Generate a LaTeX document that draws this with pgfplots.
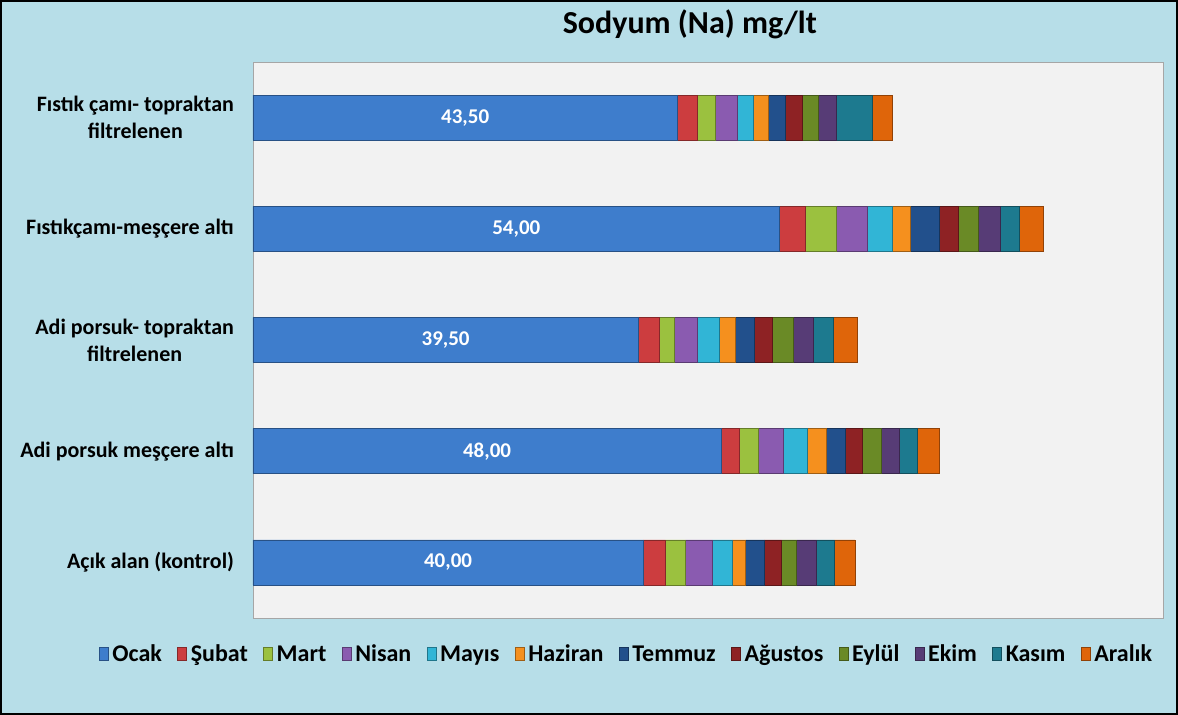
\documentclass[border=0pt]{standalone}
\usepackage{pgfplots}
\pgfplotsset{compat=1.18}
\usepackage{pgfplotstable}
\usepackage{fontspec}
\setmainfont{Carlito}

\definecolor{bgblue}{HTML}{B7DEE8}
\definecolor{plotbg}{HTML}{F2F2F2}
\definecolor{cOcak}{HTML}{3E7DCC}
\definecolor{cSubat}{HTML}{CC3D3F}
\definecolor{cMart}{HTML}{9BC13F}
\definecolor{cNisan}{HTML}{8A5BB0}
\definecolor{cMayis}{HTML}{31B5D6}
\definecolor{cHaziran}{HTML}{F5901E}
\definecolor{cTemmuz}{HTML}{22508C}
\definecolor{cAgustos}{HTML}{8E2224}
\definecolor{cEylul}{HTML}{6A8A26}
\definecolor{cEkim}{HTML}{573C76}
\definecolor{cKasim}{HTML}{1D7A8F}
\definecolor{cAralik}{HTML}{DF650A}

% y: 0 = Acik alan ... 4 = Fistik cami topraktan
\pgfplotstableread{
y Ocak Subat Mart Nisan Mayis Haziran Temmuz Agustos Eylul Ekim Kasim Aralik
4 43.5 2.05 1.90 2.20 1.70 1.50 1.75 1.70 1.65 1.90 3.60 2.10
3 54.0 2.63 3.18 3.15 2.56 1.88 2.97 1.91 2.12 2.22 1.98 2.46
2 39.5 2.15 1.60 2.33 2.22 1.67 1.91 1.85 2.15 2.05 2.05 2.46
1 48.0 1.88 1.95 2.50 2.46 1.95 1.98 1.78 1.88 1.88 1.81 2.33
0 40.0 2.29 2.05 2.74 2.05 1.40 1.88 1.78 1.54 2.05 1.81 2.12
}\datatable

\pgfplotsset{
  seg/.style={fill=#1, draw=#1!65!black, line width=0.35pt},
  samebox/.style={width=455pt, height=278pt, scale only axis,
              xmin=0, xmax=93.3, ymin=-0.5, ymax=4.5},
}

\begin{document}
\begin{tikzpicture}
\fill[bgblue] (-126.5pt,-48.5pt) rectangle (462.5pt,309pt);
\draw[black, line width=0.8pt] (-126.1pt,-48.1pt) rectangle (462.1pt,308.6pt);
\begin{axis}[
    samebox,
    xbar stacked, bar width=22.5pt,
    xtick=\empty,
    ytick={0,1,2,3,4},
    yticklabels={{Açık alan (kontrol)},{Adi porsuk meşçere altı},{Adi porsuk- topraktan\\filtrelenen},{Fıstıkçamı-meşçere altı},{Fıstık çamı- topraktan\\filtrelenen}},
    yticklabel style={font=\bfseries\fontsize{11}{13.5}\selectfont, align=center, xshift=-6pt},
    major tick length=0pt,
    axis line style={draw=gray!70},
    axis background/.style={fill=plotbg},
    title={Sodyum (Na) mg/lt},
    title style={font=\bfseries\fontsize{16}{18}\selectfont, at={(axis description cs:0.48,1)}, anchor=base, yshift=8pt},
    legend columns=12,
    legend style={at={(0.4114,-0.0665)}, anchor=center, draw=none, fill=none,
        font=\bfseries\fontsize{12}{14}\selectfont,
        /tikz/every even column/.append style={column sep=5.6pt},
        /tikz/every odd column/.append style={column sep=0pt}},
    legend image code/.code={\fill[#1] (0pt,-2.8pt) rectangle (4.5pt,3.6pt);},
]
\addplot[seg=cOcak] table[x=Ocak, y=y] {\datatable};
\addlegendentry{Ocak}
\addplot[seg=cSubat] table[x=Subat, y=y] {\datatable};
\addlegendentry{Şubat}
\addplot[seg=cMart] table[x=Mart, y=y] {\datatable};
\addlegendentry{Mart}
\addplot[seg=cNisan] table[x=Nisan, y=y] {\datatable};
\addlegendentry{Nisan}
\addplot[seg=cMayis] table[x=Mayis, y=y] {\datatable};
\addlegendentry{Mayıs}
\addplot[seg=cHaziran] table[x=Haziran, y=y] {\datatable};
\addlegendentry{Haziran}
\addplot[seg=cTemmuz] table[x=Temmuz, y=y] {\datatable};
\addlegendentry{Temmuz}
\addplot[seg=cAgustos] table[x=Agustos, y=y] {\datatable};
\addlegendentry{Ağustos}
\addplot[seg=cEylul] table[x=Eylul, y=y] {\datatable};
\addlegendentry{Eylül}
\addplot[seg=cEkim] table[x=Ekim, y=y] {\datatable};
\addlegendentry{Ekim}
\addplot[seg=cKasim] table[x=Kasim, y=y] {\datatable};
\addlegendentry{Kasım}
\addplot[seg=cAralik] table[x=Aralik, y=y] {\datatable};
\addlegendentry{Aralık}
\end{axis}
% value labels of the Ocak segments, centred in each segment
\begin{axis}[
    samebox, hide axis,
    /pgf/number format/assume math mode=true,
]
\addplot[only marks, mark=none, point meta=explicit,
    nodes near coords={\pgfmathprintnumber[fixed, fixed zerofill, precision=2, use comma]{\pgfplotspointmeta}},
    every node near coord/.append style={anchor=center, text=white, font=\bfseries\fontsize{10.5}{12}\selectfont}]
    table[x expr=\thisrow{Ocak}/2, y=y, meta=Ocak] {\datatable};
\end{axis}
\end{tikzpicture}
\end{document}
